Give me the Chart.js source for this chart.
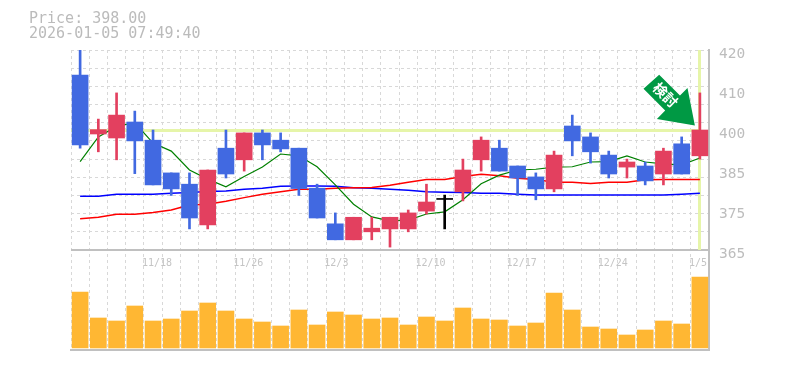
<!DOCTYPE html>
<html><head><meta charset="utf-8">
<style>html,body{margin:0;padding:0;background:#fff}canvas{display:block}</style>
<script src="https://cdn.jsdelivr.net/npm/chart.js@4"></script>
</head><body><canvas id="c" width="785" height="370"></canvas>
<script>
const titleLines = ['Price: 398.00', '2026-01-05 07:49:40'];
const lastPrice = 398;
const badgeText = '検討';
const dates = ['11/12','11/13','11/14','11/17','11/18','11/19','11/20','11/21','11/25','11/26','11/27','11/28','12/1','12/2','12/3','12/4','12/5','12/8','12/9','12/10','12/11','12/12','12/15','12/16','12/17','12/18','12/19','12/22','12/23','12/24','12/25','12/26','12/29','12/30','1/5'];
const shownDates = ['11/18','11/26','12/3','12/10','12/17','12/24','1/5'];
const opens = [413.1,396.9,395.8,400.2,395.2,386.2,383.1,371.9,393,389.8,397.2,395.2,393,382,372.2,367.8,370,370.8,370.8,375.7,378.9,381,389.8,393,388.1,385.1,381.8,399.1,396.1,391.1,387.8,388.1,385.9,394.2,390.9];
const closes = [393.9,398.1,402.1,395,382.9,381.8,373.8,387,385.9,397.2,393.9,392.8,381.9,373.8,367.8,374,371,374,375.2,378.2,378.9,387,395.2,386.7,384.8,381.8,391.1,395,392,385.9,389.2,384,392.2,385.9,398];
const highs = [420,401,408.2,403.2,398,386.2,386.2,387,398,397.2,398,397.2,393,383.1,375.2,374,374,374,376,383.1,380.1,390,396.1,395.2,388.1,386.2,392.2,402.1,397.2,392.2,390,389.2,393,396.1,408.2];
const lows = [393,392,389.8,386,382.9,380,370.8,370.8,384.8,386.7,389.8,392,380,373.8,367.8,367.8,367.8,365.8,370,374.9,370.8,378.5,386.7,386.7,380,378.8,381,390.9,388.9,384.8,384.8,382.9,382.9,385.9,390];
const maShort = [389.3,396.1,399,400,394.4,392.2,387,384.5,382.4,385.2,387.8,391.4,390.9,387.9,382.9,377.6,374.1,373,373.2,374.9,375.5,378.8,383.2,385.6,387,387.2,387.8,387.9,389.2,389.3,390.9,389.2,388.7,388.4,390.3];
const maMid = [373.6,374,374.8,374.8,375.3,376,377.4,377.6,378.4,379.4,380.3,381,381.7,381.7,382,382.1,382.2,382.8,383.6,384.4,384.4,385.2,385.8,385.4,384.7,384.4,383.6,383.6,383.3,383.6,383.6,384.3,384.4,384.4,384.4];
const maLong = [379.8,379.8,380.3,380.3,380.3,380.6,380.8,381.1,381.2,381.7,382,382.5,382.6,382.6,382.5,382.1,382,381.7,381.4,381,380.9,380.8,380.6,380.6,380.3,380.1,380.1,380.1,380.1,380.1,380.1,380.1,380.1,380.3,380.6];
const volumes = [56,30,27,42,27,29,37,45,37,29,26,22,38,23,36,33,29,30,23,31,27,40,29,28,22,25,55,38,21,19,13,18,27,24,71];
const gridValues = [365,370,375,380,385,390,395,400,405,410,415,420];
const labelValues = [420,409,398,387,376,365];
const labelTexts = ['420','410','400','385','375','365'];

const RED='#E3405F', BLUE='#4169E1', GREY='#C0C0C0', GRID='#D8D8D8', LIME='#E6F5A9', GREEN='#009944';
const candleColor = i => opens[i]===closes[i] ? '#000000' : (closes[i]>opens[i] ? RED : BLUE);
const mono = '"DejaVu Sans Mono", monospace';

const markers = {
  id:'markers',
  beforeDatasetsDraw(chart){
    const {ctx,chartArea:a,scales:{x,y}} = chart;
    const px = Math.floor(x.getPixelForValue(dates.length-1))+0.5, py = Math.round(y.getPixelForValue(lastPrice))+0.5;
    ctx.save();
    ctx.strokeStyle = LIME; ctx.lineWidth = 3;
    ctx.beginPath();
    ctx.moveTo(a.left,py); ctx.lineTo(px,py);
    ctx.moveTo(px,y.top); ctx.lineTo(px,y.bottom);
    ctx.stroke();
    ctx.restore();
  },
  afterDatasetsDraw(chart){
    const {ctx,scales:{x,y}} = chart;
    const tipX = x.getPixelForValue(dates.length-1)-5, tipY = y.getPixelForValue(lastPrice)-4.5;
    const pts = [[0,0],[-7.4,-37.4],[-14.9,-29.9],[-35.7,-50.7],[-51.4,-36.7],[-29.7,-15],[-38,-6.4]];
    ctx.save();
    ctx.translate(tipX,tipY);
    ctx.fillStyle = GREEN;
    ctx.beginPath();
    pts.forEach((p,i)=> i? ctx.lineTo(p[0],p[1]) : ctx.moveTo(p[0],p[1]));
    ctx.closePath(); ctx.fill();
    ctx.translate(-29.5,-30.5);
    ctx.rotate(Math.PI/4);
    ctx.fillStyle='#fff';
    ctx.font='bold 14px "Noto Sans CJK JP"';
    ctx.textAlign='center'; ctx.textBaseline='middle';
    ctx.fillText(badgeText,0,0);
    ctx.restore();
  }
};

new Chart(document.getElementById('c'),{
  type:'bar',
  plugins:[markers],
  data:{labels:dates,datasets:[
    {label:'Body',data:dates.map((_,i)=>[opens[i],closes[i]]),backgroundColor:dates.map((_,i)=>candleColor(i)),yAxisID:'y',barThickness:16,grouped:false,order:1,minBarLength:1,borderSkipped:false},
    {label:'Wick',data:dates.map((_,i)=>[lows[i],highs[i]]),backgroundColor:dates.map((_,i)=>candleColor(i)),yAxisID:'y',barThickness:2,grouped:false,order:2},
    {label:'MA short',type:'line',data:maShort,borderColor:'#008000',borderWidth:1.2,pointRadius:0,tension:0,yAxisID:'y',order:3},
    {label:'MA mid',type:'line',data:maMid,borderColor:'#FF0000',borderWidth:1.5,pointRadius:0,tension:0,yAxisID:'y',order:4},
    {label:'MA long',type:'line',data:maLong,borderColor:'#0000FF',borderWidth:1.5,pointRadius:0,tension:0,yAxisID:'y',order:5},
    {label:'Volume',data:volumes,backgroundColor:'#FFB733',yAxisID:'yVol',barThickness:16,grouped:false,order:6}
  ]},
  options:{
    responsive:false,animation:false,
    layout:{padding:{left:29,top:12,right:0,bottom:20}},
    plugins:{
      legend:{display:false},tooltip:{enabled:false},
      title:{display:true,text:titleLines,align:'start',color:'#BBBBBB',font:{family:mono,size:15,weight:'normal',lineHeight:1},padding:{top:0,bottom:8}}
    },
    scales:{
      x:{type:'category',offset:true,
        grid:{display:true,offset:true,color:GRID,lineWidth:1,drawTicks:false},
        border:{display:true,color:GREY,width:2,dash:[3,3]},
        ticks:{autoSkip:false,maxRotation:0,mirror:true,align:'start',labelOffset:-11,padding:81,color:'#C4C4C4',
          font:{family:mono,size:10},
          callback(v){const d=this.getLabelForValue(v);return shownDates.includes(d)?d:'';}},
        afterFit(s){s.height=0;s.paddingLeft=0;s.paddingRight=0;}
      },
      yHold:{position:'left',display:true,grid:{display:false},border:{display:false},ticks:{display:false},afterFit(s){s.width=42;}},
      y:{type:'linear',position:'right',stack:'p',stackWeight:2,min:365,max:420,
        afterBuildTicks(s){
          const vals=[...new Set([...gridValues,...labelValues])].sort((a,b)=>a-b);
          s.ticks=vals.map(value=>({value}));
        },
        grid:{
          color(c){const v=c.tick&&c.tick.value;return v===365?GREY:(gridValues.includes(v)?GRID:'rgba(0,0,0,0)');},
          lineWidth(c){return c.tick&&c.tick.value===365?2:1;},
          drawTicks:false
        },
        border:{display:true,color:GREY,width:2,dash(c){return c.tick&&c.tick.value===365?[]:[3,3];}},
        ticks:{autoSkip:false,color:'#BDBDBD',padding:10,labelOffset:4,font:{family:mono,size:14.5},
          callback(v){const i=labelValues.indexOf(v);return i>=0?labelTexts[i]:'';}},
        afterFit(s){s.width=76;}
      },
      yVol:{type:'linear',position:'right',stack:'p',stackWeight:1,min:-2,max:98,
        grid:{display:false},border:{display:true,color:GREY,width:2},ticks:{display:false},afterFit(s){s.width=76;}}
    }
  }
});
</script></body></html>
